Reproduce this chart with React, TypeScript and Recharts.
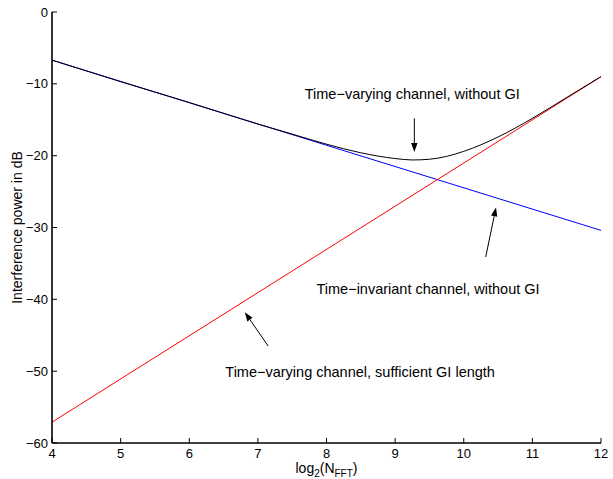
import { LineChart, Line, XAxis, YAxis, ReferenceLine, ReferenceDot } from 'recharts';

const FONT = '"Liberation Sans", Arial, Helvetica, sans-serif';

const X_TICKS = [4, 5, 6, 7, 8, 9, 10, 11, 12];
const Y_TICKS = [-60, -50, -40, -30, -20, -10, 0];

// Time-invariant channel, without GI (straight line, read at both ends)
const invariantX = [4, 12];
const invariantDb = [-6.7, -30.4];

// Time-varying channel, sufficient GI length (straight line)
const sufficientX = [4, 12];
const sufficientDb = [-57.1, -9.0];

// Time-varying channel, without GI
const varyingX = [4, 5, 6, 7, 7.5, 8, 8.5, 9, 9.25, 9.5, 9.75, 10, 10.5, 11, 11.5, 12];
const varyingDb = [-6.7, -9.7, -12.6, -15.6, -17.0, -18.4, -19.6, -20.4, -20.6, -20.5, -20.1, -19.4, -17.4, -14.8, -11.9, -9.0];

// annotations
const noteText = [
  'Time\u2212varying channel, without GI',
  'Time\u2212invariant channel, without GI',
  'Time\u2212varying channel, sufficient GI length',
];
const noteX = [9.25, 9.48, 8.49];
const noteY = [-11.4, -38.6, -50.1];
const arrowFromX = [9.28, 10.32, 7.15];
const arrowFromY = [-14.8, -34.1, -46.5];
const arrowToX = [9.28, 10.47, 6.81];
const arrowToY = [-19.5, -27.2, -41.8];

const toPoints = (xs: number[], ys: number[]) => xs.map((x, i) => ({ x, y: ys[i] }));

const invariantData = toPoints(invariantX, invariantDb);
const sufficientData = toPoints(sufficientX, sufficientDb);
const varyingData = toPoints(varyingX, varyingDb);

const fmt = (v: number) => (v < 0 ? '\u2212' + Math.abs(v) : String(v));

const BottomTick = ({ x, y, payload }: any) => (
  <g>
    <line x1={x} x2={x} y1={y} y2={y - 5} stroke="#000" strokeWidth={1} />
    <text x={x} y={y + 15} textAnchor="middle" fontSize={13} fontFamily={FONT} fill="#000">
      {payload.value}
    </text>
  </g>
);

const TopTick = ({ x, y }: any) => (
  <line x1={x} x2={x} y1={y} y2={y + 5} stroke="#000" strokeWidth={1} />
);

const LeftTick = ({ x, y, payload }: any) => (
  <g>
    <line x1={x} x2={x + 5} y1={y} y2={y} stroke="#000" strokeWidth={1} />
    <text x={x - 4} y={y + 4.5} textAnchor="end" fontSize={13} fontFamily={FONT} fill="#000">
      {fmt(payload.value)}
    </text>
  </g>
);

const RightTick = ({ x, y }: any) => (
  <line x1={x} x2={x - 5} y1={y} y2={y} stroke="#000" strokeWidth={1} />
);

const XLabel = ({ viewBox }: any) => {
  const cx = viewBox.x + viewBox.width / 2;
  const by = viewBox.y + 30;
  return (
    <text x={cx} y={by} textAnchor="middle" fontSize={14} fontFamily={FONT} fill="#000">
      <tspan>log</tspan>
      <tspan fontSize={10} dy={4}>2</tspan>
      <tspan dy={-4}>(N</tspan>
      <tspan fontSize={10} dy={4}>FFT</tspan>
      <tspan dy={-4}>)</tspan>
    </text>
  );
};

const YLabel = ({ viewBox }: any) => {
  const x = viewBox.x + 22;
  const y = viewBox.y + viewBox.height / 2;
  return (
    <text x={x} y={y} textAnchor="middle" fontSize={14} fontFamily={FONT} fill="#000" transform={`rotate(-90, ${x}, ${y})`}>
      Interference power in dB
    </text>
  );
};

const Arrow = (props: any) => {
  const { x1, y1, x2, y2 } = props;
  const ang = Math.atan2(y2 - y1, x2 - x1);
  const len = 9;
  const half = 3.2;
  const bx = x2 - len * Math.cos(ang);
  const by = y2 - len * Math.sin(ang);
  const px = -Math.sin(ang) * half;
  const py = Math.cos(ang) * half;
  return (
    <g>
      <line x1={x1} y1={y1} x2={bx} y2={by} stroke="#000" strokeWidth={1} />
      <polygon points={`${x2},${y2} ${bx + px},${by + py} ${bx - px},${by - py}`} fill="#000" />
    </g>
  );
};

const noteShape = (text: string) => (props: any) => (
  <text x={props.cx} y={props.cy + 5} textAnchor="middle" fontSize={14.5} fontFamily={FONT} fill="#000">
    {text}
  </text>
);

export default function App() {
  return (
    <div style={{ position: 'absolute', left: 0, top: 0, background: '#fff' }}>
      <LineChart width={613} height={479} margin={{ top: 12, right: 12, bottom: 0, left: 0 }}>
        <XAxis
          dataKey="x"
          type="number"
          domain={[4, 12]}
          ticks={X_TICKS}
          allowDataOverflow
          height={36}
          tickSize={0}
          tickMargin={0}
          tick={<BottomTick />}
          axisLine={{ stroke: '#000', strokeWidth: 1.6 }}
          label={<XLabel />}
        />
        <XAxis
          xAxisId="top"
          orientation="top"
          type="number"
          domain={[4, 12]}
          ticks={X_TICKS}
          allowDataOverflow
          height={0}
          tickSize={0}
          tickMargin={0}
          tick={<TopTick />}
          axisLine={{ stroke: '#000', strokeWidth: 1.6 }}
        />
        <YAxis
          type="number"
          domain={[-60, 0]}
          ticks={Y_TICKS}
          allowDataOverflow
          width={52}
          tickSize={0}
          tickMargin={0}
          tick={<LeftTick />}
          axisLine={{ stroke: '#000', strokeWidth: 1.6 }}
          label={<YLabel />}
        />
        <YAxis
          yAxisId="right"
          orientation="right"
          type="number"
          domain={[-60, 0]}
          ticks={Y_TICKS}
          allowDataOverflow
          width={0}
          tickSize={0}
          tickMargin={0}
          tick={<RightTick />}
          axisLine={{ stroke: '#000', strokeWidth: 1.6 }}
        />
        <Line data={invariantData} dataKey="y" type="linear" stroke="#0000ff" strokeWidth={1} dot={false} isAnimationActive={false} />
        <Line data={sufficientData} dataKey="y" type="linear" stroke="#ff0000" strokeWidth={1} dot={false} isAnimationActive={false} />
        <Line data={varyingData} dataKey="y" type="monotone" stroke="#000" strokeWidth={1} dot={false} isAnimationActive={false} />
        {noteText.map((t, i) => (
          <ReferenceDot key={'n' + i} x={noteX[i]} y={noteY[i]} r={0} shape={noteShape(t)} />
        ))}
        {arrowFromX.map((fx, i) => (
          <ReferenceLine
            key={'a' + i}
            segment={[
              { x: fx, y: arrowFromY[i] },
              { x: arrowToX[i], y: arrowToY[i] },
            ]}
            shape={Arrow}
          />
        ))}
      </LineChart>
    </div>
  );
}
